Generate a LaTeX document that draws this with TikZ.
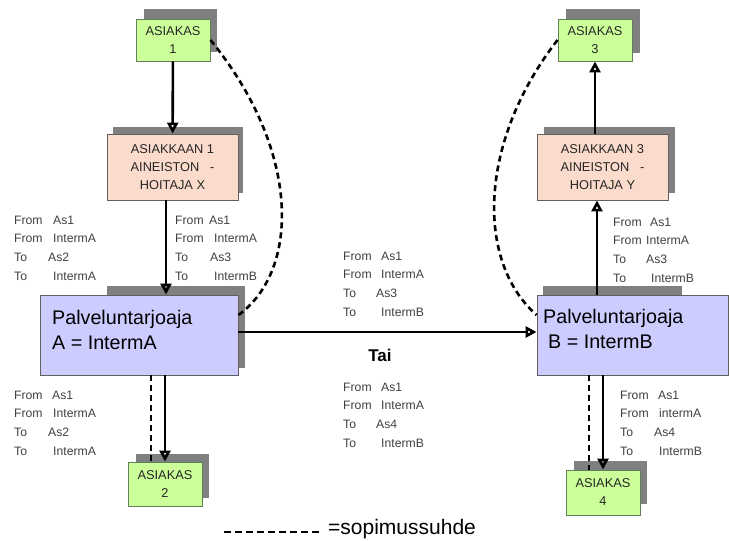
\documentclass[tikz,border=0pt]{standalone}
\usepackage{fontspec}
\setmainfont{Liberation Sans}
\usetikzlibrary{arrows.meta}
\definecolor{gfill}{RGB}{204,255,153}
\definecolor{gdraw}{RGB}{100,125,90}
\definecolor{pfill}{RGB}{251,219,203}
\definecolor{lfill}{RGB}{204,204,255}
\definecolor{shd}{RGB}{128,128,128}
\definecolor{txt}{RGB}{64,64,64}
\definecolor{boxline}{RGB}{96,96,96}
\newcommand{\lrow}[3]{\makebox[#3pt][l]{#1}#2}
\begin{document}
\begin{tikzpicture}[x=1pt,y=-1pt,
  box/.style={draw=boxline, line width=0.9pt, inner sep=0pt, align=center, font=\fontsize{12.8}{18}\selectfont, text=black!85},
  custbox/.style={box, fill=gfill, draw=gdraw, minimum width=74pt, minimum height=42pt},
  keeperbox/.style={box, fill=pfill, minimum width=131pt, minimum height=66pt},
  provbox/.style={box, fill=lfill, minimum height=80pt},
  flow/.style={line width=2.6pt, -{Triangle[open,length=11pt,width=11pt]}},
  contract/.style={line width=2.6pt, dash pattern=on 6pt off 4pt},
  info/.style={align=left, anchor=west, text=txt, inner sep=0pt, font=\fontsize{12.2}{18.7}\selectfont},
  bigtext/.style={align=left, anchor=north west, inner sep=0pt, font=\fontsize{19.7}{25}\selectfont}
]
\useasboundingbox (0,0) rectangle (729,541);
% shadows
\fill[shd] (144,9) rectangle (217,52);
\fill[shd] (113,127) rectangle (243,193);
\fill[shd] (107,286) rectangle (245,368);
\fill[shd] (543,286) rectangle (682,370);
\fill[shd] (136,454) rectangle (209,498);
\fill[shd] (566,9) rectangle (640,53);
\fill[shd] (544,127) rectangle (675,193);
\fill[shd] (574,461) rectangle (647,504);
% boxes
\node[custbox] (as1) at (173,40) {ASIAKAS\\1};
\node[keeperbox] (k1) at (172.5,167) {ASIAKKAAN 1\\AINEISTON \ \ -\\HOITAJA X};
\node[provbox, minimum width=198pt] (A) at (139,335) {};
\node[provbox, minimum width=191pt] (B) at (632.5,335) {};
\node[custbox, minimum height=44pt] (as2) at (165,484) {ASIAKAS\\2};
\node[custbox] (as3) at (595,40) {ASIAKAS\\3};
\node[keeperbox] (k3) at (602.5,167) {ASIAKKAAN 3\\AINEISTON \ \ -\\HOITAJA Y};
\node[custbox, minimum height=45pt] (as4) at (603,492.5) {ASIAKAS\\4};
\node[bigtext] (At) at (52,310) {Palveluntarjoaja\\A = IntermA};
\node[bigtext] (Bt) at (543,309) {Palveluntarjoaja\\\hspace*{5pt}B = IntermB};
% connectors
\draw[flow] (as1) -- (k1);
\draw[flow] ([xshift=-6.5pt]k1.south) -- ([xshift=-6.5pt]k1.south |- A.north);
\draw[flow] (A.south -| as2.north) -- (as2.north);
\draw[contract] ([xshift=-14pt]as2.north |- A.south) -- ([xshift=-14pt]as2.north);
\draw[flow] ([yshift=3pt]A.east) -- ([yshift=3pt]B.west);
\draw[flow] ([xshift=-5.5pt]k3.south |- B.north) -- ([xshift=-5.5pt]k3.south);
\draw[flow] (k3.north -| as3.south) -- (as3.south);
\draw[flow] (B.south -| as4.north) -- (as4.north);
\draw[contract] ([xshift=-14pt]as4.north |- B.south) -- ([xshift=-14pt]as4.north);
\draw[contract] (as1.east) .. controls +(90,110) and +(62,-45) .. ([yshift=20pt]A.east);
\draw[contract] (as3.west) .. controls +(-78,100) and +(-62,-55) .. ([yshift=20pt]B.west);
% labels
\node[info] (l1) at (14,248) {\lrow{From}{As1}{39}\\\lrow{From}{IntermA}{39}\\\lrow{To}{As2}{34}\\\lrow{To}{IntermA}{39}};
\node[info] (l2) at (175,248) {\lrow{From}{As1}{34}\\\lrow{From}{IntermA}{39}\\\lrow{To}{As3}{35}\\\lrow{To}{IntermB}{39}};
\node[info] (l3) at (343,284) {\lrow{From}{As1}{38}\\\lrow{From}{IntermA}{38}\\\lrow{To}{As3}{33}\\\lrow{To}{IntermB}{38}};
\node[font=\fontsize{17}{18}\selectfont\bfseries, inner sep=0pt] (tai) at (380,355) {Tai};
\node[info] (l4) at (343,415) {\lrow{From}{As1}{38}\\\lrow{From}{IntermA}{38}\\\lrow{To}{As4}{33}\\\lrow{To}{IntermB}{38}};
\node[info] (l5) at (14,423) {\lrow{From}{As1}{38}\\\lrow{From}{IntermA}{39}\\\lrow{To}{As2}{34}\\\lrow{To}{IntermA}{39}};
\node[info] (l6) at (613,250) {\lrow{From}{As1}{37}\\\lrow{From}{IntermA}{33}\\\lrow{To}{As3}{33}\\\lrow{To}{IntermB}{38}};
\node[info] (l7) at (620,423) {\lrow{From}{As1}{38}\\\lrow{From}{intermA}{39}\\\lrow{To}{As4}{34}\\\lrow{To}{IntermB}{39}};
% legend
\coordinate (lg1) at (224,532);
\coordinate (lg2) at (319,532);
\draw[contract, dash pattern=on 7pt off 4pt] (lg1) -- (lg2);
\node[anchor=west, inner sep=0pt, font=\fontsize{21}{24}\selectfont] (lgt) at (328,529) {=sopimussuhde};
\end{tikzpicture}
\end{document}
